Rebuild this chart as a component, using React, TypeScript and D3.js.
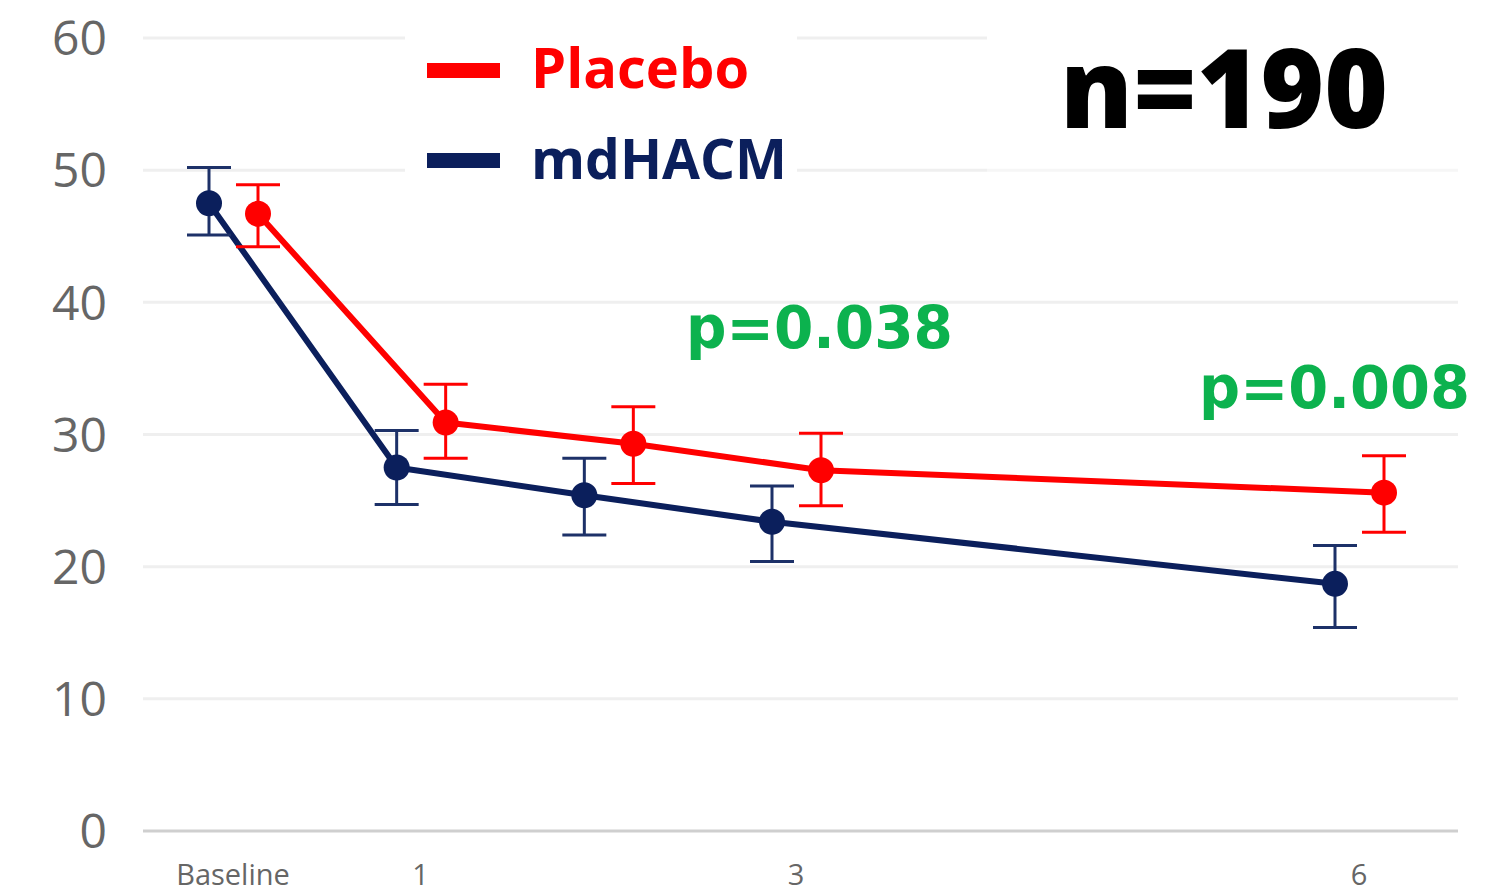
import React from "react";
import * as d3 from "d3";

const months = [0, 1, 2, 3, 6];
const tickMonths = [0, 1, 3, 6];
const tickLabels = ["Baseline", "1", "3", "6"];
const yTicks = [0, 10, 20, 30, 40, 50, 60];

const placeboMean = [46.7, 30.9, 29.3, 27.3, 25.6];
const placeboHigh = [48.9, 33.8, 32.1, 30.1, 28.4];
const placeboLow = [44.2, 28.2, 26.3, 24.6, 22.6];

const mdhacmMean = [47.5, 27.5, 25.4, 23.4, 18.7];
const mdhacmHigh = [50.2, 30.3, 28.2, 26.1, 21.6];
const mdhacmLow = [45.1, 24.7, 22.4, 20.4, 15.4];

const seriesNames = ["Placebo", "mdHACM"];
const pLabels = ["p=0.038", "p=0.008"];
const nLabel = "n=190";

const RED = "#ff0000";
const NAVY = "#0b1f5c";
const NAVY_ERR = "#1d3168";
const GREEN = "#0cb24e";

export default function App() {
  const W = 1501, H = 894;
  const y = d3.scaleLinear().domain([0, 60]).range([831, 38]);
  const x = d3.scaleLinear().domain([0, 6]).range([233, 1359]);
  const left = 143, right = 1458;

  const series = [
    { name: seriesNames[1], mean: mdhacmMean, hi: mdhacmHigh, lo: mdhacmLow, color: NAVY, err: NAVY_ERR, off: -24 },
    { name: seriesNames[0], mean: placeboMean, hi: placeboHigh, lo: placeboLow, color: RED, err: RED, off: 25 },
  ];

  const line = d3.line<[number, number]>().x((d) => d[0]).y((d) => d[1]);

  return (
    <svg width={W} height={H} style={{ position: "absolute", left: 0, top: 0, background: "#fff" }}>
      <rect x={0} y={0} width={W} height={H} fill="#fff" />
      {yTicks.filter((t) => t > 0).map((t) => (
        <line key={t} x1={left} x2={right} y1={y(t)} y2={y(t)} stroke="#efefef" strokeWidth={3} />
      ))}
      {/* legend / label backgrounds */}
      <rect x={405} y={15} width={392} height={175} fill="#fff" />
      <rect x={987} y={15} width={475} height={140} fill="#fff" />
      <rect x={987} y={160} width={475} height={20} fill="#fff" opacity={0.45} />
      <line x1={left} x2={right} y1={y(0)} y2={y(0)} stroke="#cfcfcf" strokeWidth={3} />
      {yTicks.map((t) => (
        <text key={t} x={107} y={y(t)} dy="0.36em" textAnchor="end" fontFamily="'Open Sans'" fontSize={48} fill="#666">
          {t}
        </text>
      ))}
      {tickMonths.map((m, i) => (
        <text key={m} x={x(m)} y={885} textAnchor="middle" fontFamily="'Open Sans'" fontSize={29} fill="#666">
          {tickLabels[i]}
        </text>
      ))}
      {series.map((s) => {
        const pts: [number, number][] = months.map((m, i) => [x(m) + s.off, y(s.mean[i])]);
        return (
          <g key={s.name}>
            <path d={line(pts) || ""} fill="none" stroke={s.color} strokeWidth={6} strokeLinejoin="round" />
            {months.map((m, i) => {
              const cx = x(m) + s.off;
              return (
                <g key={m}>
                  <line x1={cx} x2={cx} y1={y(s.hi[i])} y2={y(s.lo[i])} stroke={s.err} strokeWidth={3} />
                  <line x1={cx - 22} x2={cx + 22} y1={y(s.hi[i])} y2={y(s.hi[i])} stroke={s.err} strokeWidth={3} />
                  <line x1={cx - 22} x2={cx + 22} y1={y(s.lo[i])} y2={y(s.lo[i])} stroke={s.err} strokeWidth={3} />
                  <circle cx={cx} cy={y(s.mean[i])} r={13} fill={s.color} />
                </g>
              );
            })}
          </g>
        );
      })}
      {/* legend */}
      <rect x={427} y={63} width={73} height={15} fill={RED} />
      <rect x={427} y={153} width={73} height={15} fill={NAVY} />
      <text x={531} y={88} fontFamily="'Open Sans'" fontWeight={700} fontSize={56} fill={RED}>
        {seriesNames[0]}
      </text>
      <text x={531} y={179} fontFamily="'Open Sans'" fontWeight={700} fontSize={56} fill={NAVY} textLength={256} lengthAdjust="spacingAndGlyphs">
        {seriesNames[1]}
      </text>
      <text x={1060} y={128} fontFamily="'Open Sans'" fontWeight={800} fontSize={110} fill="#000" textLength={328} lengthAdjust="spacingAndGlyphs">
        {nLabel}
      </text>
      <text x={686} y={348} fontFamily="'DejaVu Sans'" fontWeight={700} fontSize={58} fill={GREEN} textLength={267} lengthAdjust="spacingAndGlyphs">
        {pLabels[0]}
      </text>
      <text x={1199} y={408} fontFamily="'DejaVu Sans'" fontWeight={700} fontSize={58} fill={GREEN} textLength={271} lengthAdjust="spacingAndGlyphs">
        {pLabels[1]}
      </text>
    </svg>
  );
}
